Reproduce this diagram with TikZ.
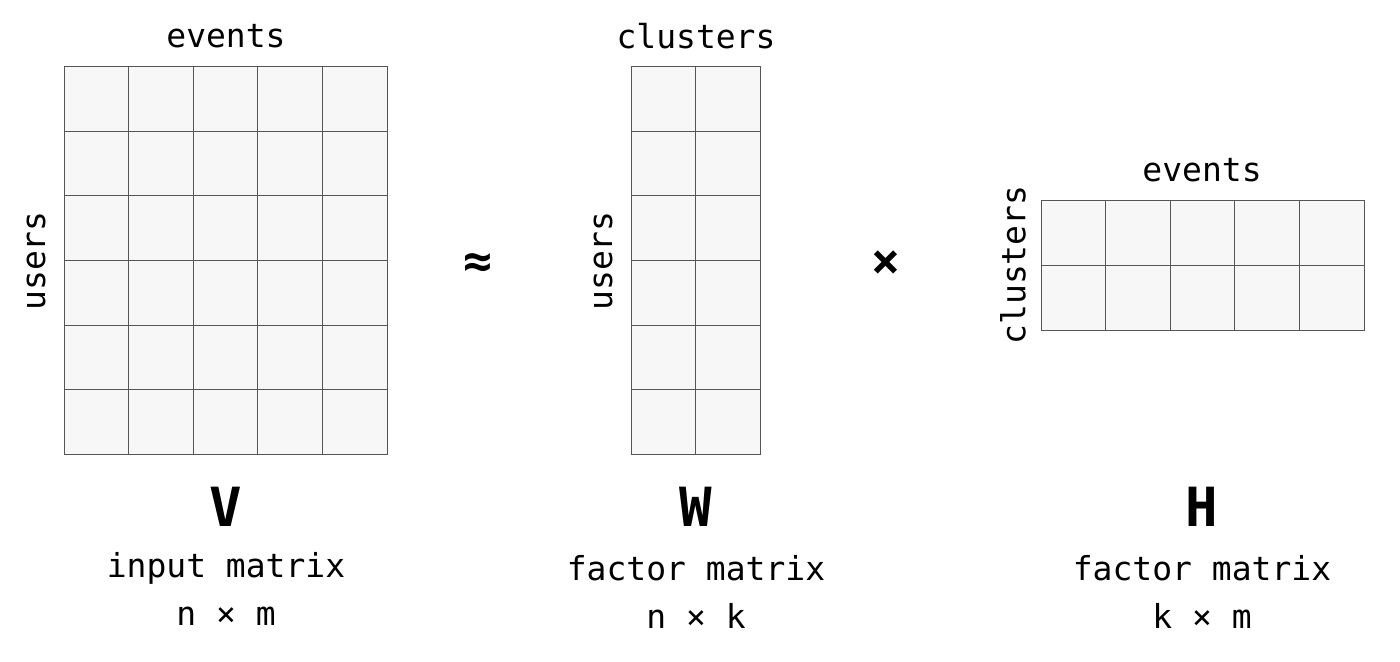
\documentclass[tikz,border=0pt]{standalone}
\usepackage{fontspec}
\setmainfont{DejaVu Sans Mono}
\definecolor{cellfill}{HTML}{F7F7F7}
\definecolor{cellline}{HTML}{555555}
\tikzset{
  cell/.style={fill=cellfill,draw=cellline,line width=0.5pt},
  lbl/.style={font=\fontsize{16.5}{19}\selectfont,inner sep=0pt},
  big/.style={font=\fontsize{27}{30}\selectfont\bfseries,inner sep=0pt},
  op/.style={font=\fontsize{24}{28}\selectfont\bfseries,inner sep=0pt}
}
\begin{document}
\begin{tikzpicture}[x=0.5pt,y=-0.5pt]
    \useasboundingbox (0,0) rectangle (1400,662);
    %% V
    \foreach \i in {0,...,4}
      \foreach \j in {0,...,5}
        \draw[cell] (64+64.6*\i,67+64.5*\j) rectangle ++(64.6,64.5);
    \node[lbl] (vtop) at (226,36) {events};
    \node[lbl,rotate=90] (vside) at (36,261) {users};
    \node[big] (vname) at (226,507) {V};
    \node[lbl] (vdesc) at (226,568) {input matrix};
    \node[lbl] (vdim) at (226,616) {n × m};
    %% approx
    \node[op] (approx) at (478,266) {≈};
    %% W
    \foreach \i in {0,1}
      \foreach \j in {0,...,5}
        \draw[cell] (631+64.5*\i,67+64.5*\j) rectangle ++(64.5,64.5);
    \node[lbl] (wtop) at (696,36) {clusters};
    \node[lbl,rotate=90] (wside) at (603,261) {users};
    \node[big] (wname) at (696,507) {W};
    \node[lbl] (wdesc) at (696,568) {factor matrix};
    \node[lbl] (wdim) at (696,616) {n × k};
    %% times
    \node[op] (times) at (886,264) {×};
    %% H
    \foreach \i in {0,...,4}
      \foreach \j in {0,1}
        \draw[cell] (1041+64.6*\i,201+64.5*\j) rectangle ++(64.6,64.5);
    \node[lbl] (htop) at (1202,170) {events};
    \node[lbl,rotate=90] (hside) at (1013,265) {clusters};
    \node[big] (hname) at (1202,507) {H};
    \node[lbl] (hdesc) at (1202,568) {factor matrix};
    \node[lbl] (hdim) at (1202,616) {k × m};
\end{tikzpicture}
\end{document}
